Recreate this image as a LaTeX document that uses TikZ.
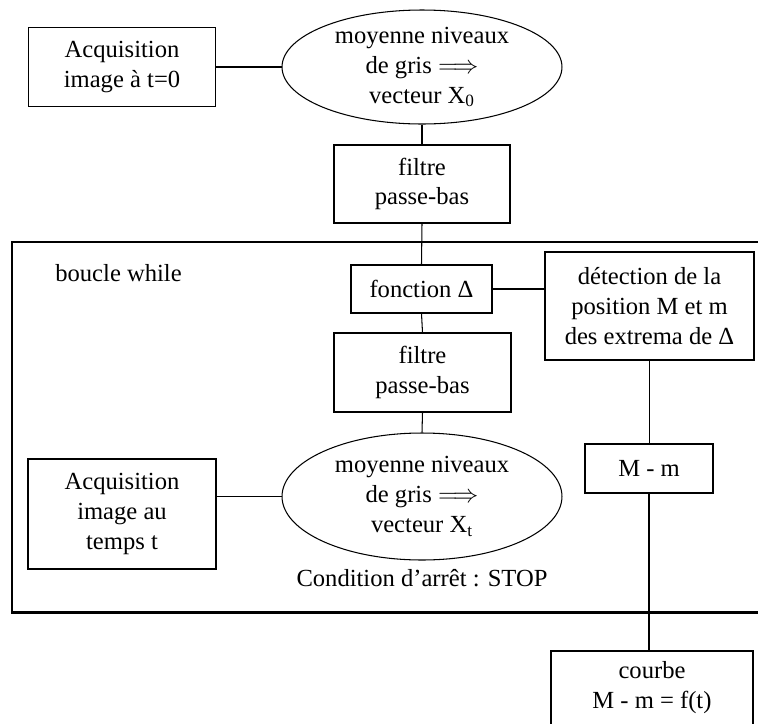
\documentclass[tikz,border=0pt]{standalone}
\usepackage{fontspec}
\setmainfont{Liberation Serif}
\usepackage{tikz}
\usetikzlibrary{shapes.geometric}

\begin{document}
\begin{tikzpicture}[x=0.02cm, y=-0.02cm,
    every node/.style={font=\fontsize{14}{17}\selectfont, align=center, inner sep=0pt},
    bloc/.style={draw, line width=0.6pt, rectangle},
    moy/.style={draw, line width=0.6pt, ellipse},
    lien/.style={line width=0.6pt},
    cadre/.style={line width=1.7pt}]
    \useasboundingbox (0,0) rectangle (758,724);
    \clip (0,0) rectangle (758,724);

    \coordinate (A) at (122,67);
    \coordinate (B) at (422,67);
    \coordinate (C) at (422,184);
    \coordinate (D) at (421.5,289);
    \coordinate (E) at (649.5,306);
    \coordinate (F) at (422.5,372.5);
    \coordinate (G) at (422,496.5);
    \coordinate (H) at (122,514);
    \coordinate (K) at (649,468.5);
    \coordinate (L) at (652,688);

    \draw[cadre] (758,242) -- (12,242) -- (12,612) -- (758,612);

    \node[bloc, minimum width=3.74cm, minimum height=1.58cm] (acqA) at (A)
        {Acquisition\\image à t=0};
    \node[moy, minimum width=5.6cm, minimum height=2.28cm] (moyA) at (B)
        {moyenne niveaux\\de gris $\Longrightarrow$\\vecteur X\textsubscript{0}};
    \node[bloc, minimum width=3.52cm, minimum height=1.56cm] (filtA) at (C)
        {filtre\\passe-bas};
    \node[bloc, minimum width=2.82cm, minimum height=0.96cm] (fct) at (D)
        {fonction Δ};
    \node[bloc, minimum width=4.18cm, minimum height=2.16cm] (det) at (E)
        {détection de la\\position M et m\\des extrema de Δ};
    \node[bloc, minimum width=3.54cm, minimum height=1.58cm] (filtB) at (F)
        {filtre\\passe-bas};
    \node[moy, minimum width=5.6cm, minimum height=2.54cm] (moyB) at (G)
        {moyenne niveaux\\de gris $\Longrightarrow$\\vecteur X\textsubscript{t}};
    \node[bloc, minimum width=3.76cm, minimum height=2.2cm] (acqB) at (H)
        {Acquisition\\image au\\temps t};
    \node[bloc, minimum width=2.56cm, minimum height=0.98cm] (mm) at (K)
        {M - m};
    \node[bloc, minimum width=4.04cm, minimum height=1.48cm] (courbe) at (L)
        {courbe\\M - m = f(t)};

    \node[anchor=west] (boucle) at (55,273) {boucle while};
    \node (stop) at (422,578) {Condition d’arrêt : STOP};

    \draw[lien] (acqA.east) -- (moyA.west);
    \draw[lien] (moyA.south) -- (filtA.north);
    \draw[lien] (filtA.south) -- (fct.north);
    \draw[lien] (fct.east) -- (fct.east -| det.west);
    \draw[lien] (fct.south) -- (filtB.north);
    \draw[lien] (filtB.south) -- (moyB.north);
    \draw[lien] (moyB.west) -- (moyB.west -| acqB.east);
    \draw[lien] (det.south) -- (det.south |- mm.north);
    \draw[lien] (mm.south) -- (mm.south |- courbe.north);
\end{tikzpicture}
\end{document}
